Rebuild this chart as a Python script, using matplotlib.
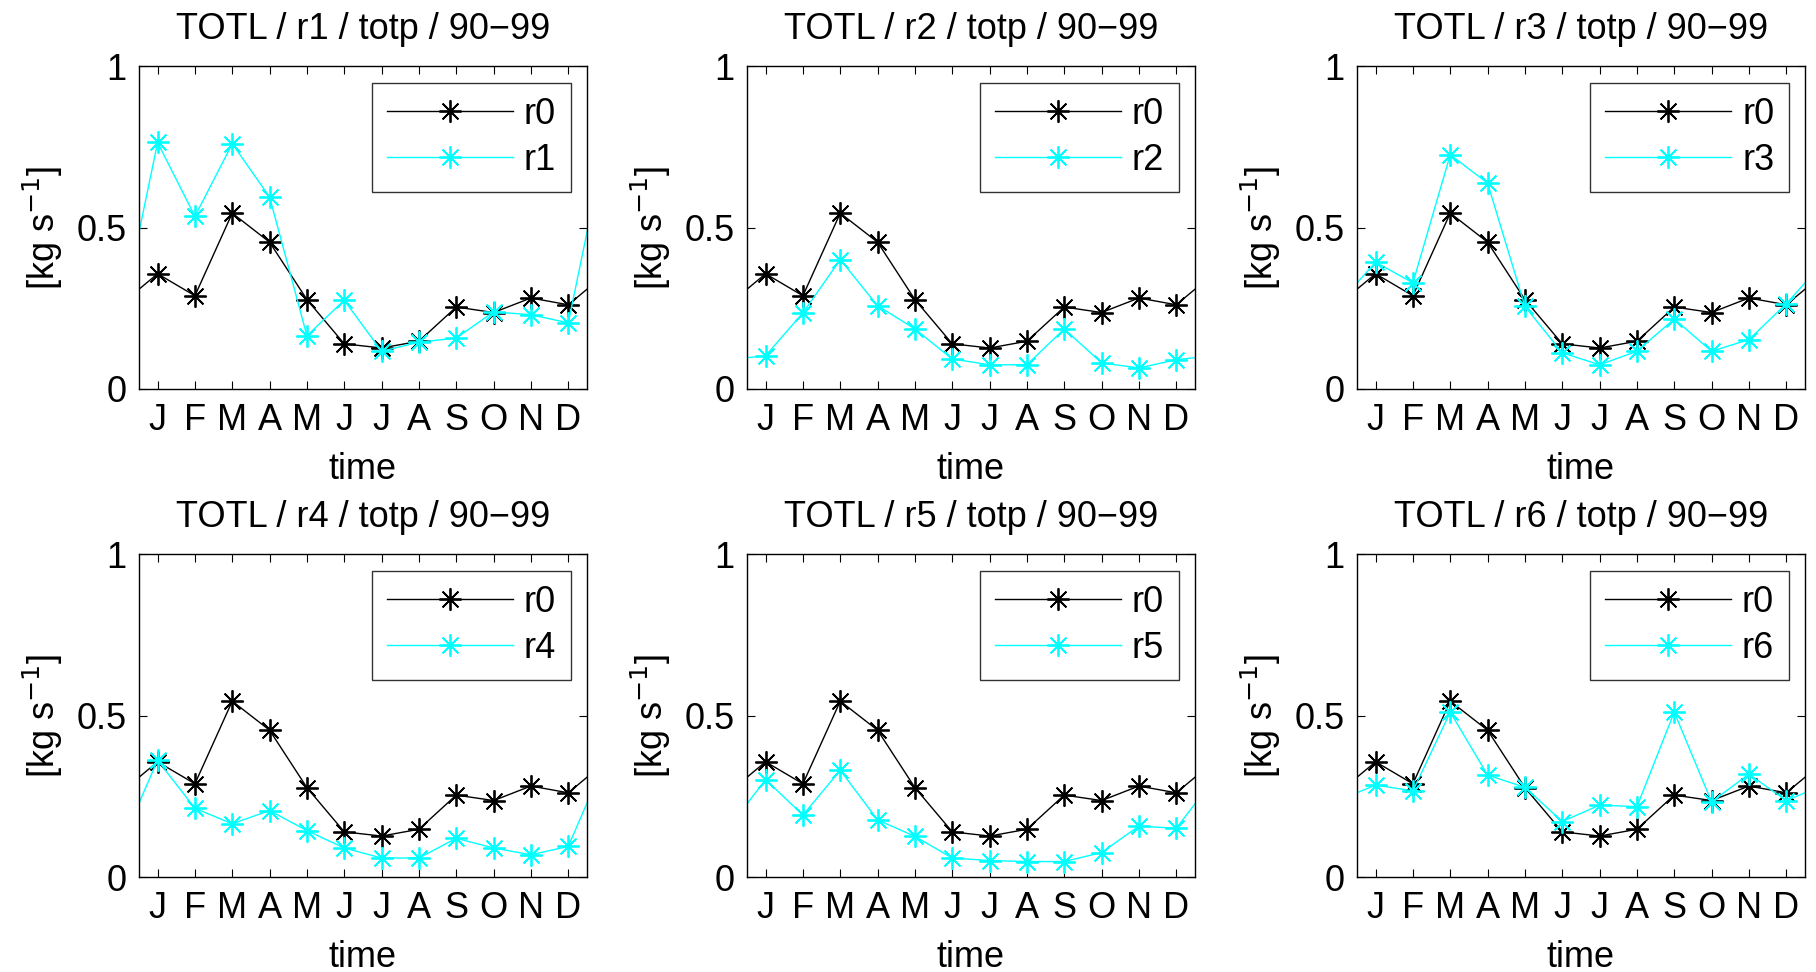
import numpy as np
import matplotlib.pyplot as plt

# --- Data ---
months = ["J", "F", "M", "A", "M", "J", "J", "A", "S", "O", "N", "D"]
month_num = np.arange(1, 13)

r0 = [0.357, 0.289, 0.545, 0.455, 0.277, 0.140, 0.127, 0.148, 0.254, 0.237, 0.282, 0.261]
r1 = [0.764, 0.535, 0.760, 0.595, 0.165, 0.275, 0.117, 0.145, 0.158, 0.239, 0.230, 0.205]
r2 = [0.103, 0.236, 0.401, 0.258, 0.186, 0.093, 0.075, 0.075, 0.186, 0.081, 0.065, 0.091]
r3 = [0.393, 0.329, 0.726, 0.638, 0.256, 0.112, 0.075, 0.117, 0.217, 0.117, 0.153, 0.264]
r4 = [0.362, 0.213, 0.165, 0.206, 0.144, 0.090, 0.059, 0.059, 0.120, 0.090, 0.069, 0.095]
r5 = [0.302, 0.192, 0.331, 0.177, 0.126, 0.059, 0.051, 0.048, 0.048, 0.076, 0.158, 0.151]
r6 = [0.285, 0.267, 0.511, 0.316, 0.278, 0.172, 0.223, 0.218, 0.511, 0.233, 0.319, 0.237]

runs = {"r1": r1, "r2": r2, "r3": r3, "r4": r4, "r5": r5, "r6": r6}

plt.rcParams["font.family"] = ["Liberation Sans", "DejaVu Sans"]
FS = 26

# asterisk marker like MATLAB '*'
star = (8, 2, 0)


def wrap(vals):
    # periodic annual cycle: Dec before Jan, Jan after Dec
    v = list(vals)
    return np.arange(0, 14), [v[-1]] + v + [v[0]]


fig = plt.figure(figsize=(18.16, 9.72), dpi=100)

lefts = [0.0765, 0.4113, 0.7472]
bottoms = [0.5998, 0.0977]
w, h = 0.2467, 0.3320

for i, (name, vals) in enumerate(runs.items()):
    row, col = divmod(i, 3)
    ax = fig.add_axes([lefts[col], bottoms[row], w, h])

    x0, y0 = wrap(r0)
    x1, y1 = wrap(vals)
    ax.plot(x0, y0, color="black", lw=1.0, marker=star, ms=16, mew=1.3, label="r0")
    ax.plot(x1, y1, color="#00ffff", lw=1.0, marker=star, ms=16, mew=1.3, label=name)

    ax.set_xlim(0.5, 12.5)
    ax.set_ylim(0, 1)
    ax.set_xticks(month_num)
    ax.set_xticklabels(months)
    ax.set_yticks([0, 0.5, 1])
    ax.set_yticklabels(["0", "0.5", "1"])
    ax.tick_params(direction="in", top=True, right=True, length=6,
                   labelsize=FS)
    ax.tick_params(axis="x", pad=10)
    ax.tick_params(axis="y", pad=9)
    for s in ax.spines.values():
        s.set_linewidth(1.0)

    ax.set_title(f"TOTL / {name} / totp / 90\u221299", fontsize=FS, pad=20)
    ax.set_xlabel("time", fontsize=FS, labelpad=10)
    ax.set_ylabel(r"[kg s$^{-1}$]", fontsize=FS, labelpad=8)

    leg = ax.legend(loc="upper right", fontsize=FS, handlelength=3.5,
                    frameon=True, fancybox=False, borderpad=0.4,
                    labelspacing=0.3, handletextpad=0.3,
                    borderaxespad=0.45)
    leg.get_frame().set_edgecolor("black")
    leg.get_frame().set_linewidth(1.0)

fig.savefig("out.png", dpi=100)
